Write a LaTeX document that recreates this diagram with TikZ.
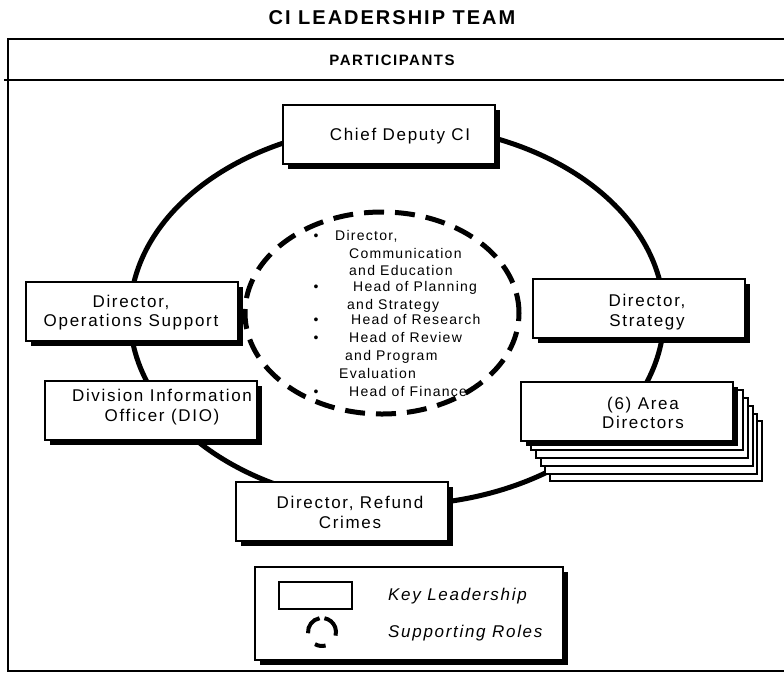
\documentclass[tikz,border=0pt]{standalone}
\usepackage{fontspec}
\setmainfont{Liberation Sans}
\newfontfamily\spfont[LetterSpace=10]{Liberation Sans}
\newfontfamily\elfont[LetterSpace=9]{Liberation Sans}
\newfontfamily\ttlfont[LetterSpace=10]{Liberation Sans}
\usetikzlibrary{shadows}
\begin{document}
\begin{tikzpicture}[x=1pt,y=-1pt,
  keybox/.style={draw, fill=white, line width=2pt, minimum width=212pt, minimum height=59pt, inner sep=0pt,
    drop shadow={shadow xshift=5pt, shadow yshift=-5pt, fill=black, opacity=1}},
  stackbox/.style={draw, fill=white, line width=1.6pt, minimum width=212pt, minimum height=60pt, inner sep=0pt},
  boxtext/.style={font=\spfont\fontsize{17}{19.5}\selectfont, align=center, inner sep=0pt},
  eltext/.style={font=\elfont\fontsize{14}{16}\selectfont, anchor=base west, inner sep=0pt},
  bul/.style={font=\fontsize{14}{16}\selectfont, anchor=base, inner sep=0pt},
  legtext/.style={font=\spfont\itshape\fontsize{17}{19.5}\selectfont, anchor=west, inner sep=0pt},
  frameline/.style={line width=2.5pt},
  ring/.style={line width=5pt},
  supp/.style={line width=5pt, dash pattern=on 20pt off 11pt},
  suppmini/.style={line width=4pt}]
\useasboundingbox (0,0) rectangle (784,673);

% title and frame
\node[font=\ttlfont\bfseries\fontsize{20}{24}\selectfont, inner sep=0pt] (title) at (392,18) {CI LEADERSHIP TEAM};
\coordinate (ftr) at (784,39);
\coordinate (ftl) at (8,39);
\coordinate (fbl) at (8,671);
\coordinate (fbr) at (784,671);
\draw[frameline] (ftr) -- (ftl) -- (fbl) -- (fbr);
\coordinate (hl) at (4,80);
\coordinate (hr) at (784,80);
\draw[frameline] (hl) -- (hr);
\node[font=\ttlfont\bfseries\fontsize{15}{18}\selectfont, inner sep=0pt] (part) at (392,60) {PARTICIPANTS};

% big solid ring
\coordinate (ringc) at (397,315);
\draw[ring] (ringc) ellipse [x radius=267pt, y radius=190pt];

% dashed supporting ellipse
\coordinate (suppc) at (382,313);
\draw[supp] (suppc) ellipse [x radius=137pt, y radius=101pt];

% supporting roles text
\node[bul] (eb1) at (316,240) {•};
\node[eltext] (e1) at (335,240) {Director,};
\node[eltext] (e2) at (349,258) {Communication};
\node[eltext] (e3) at (349,275) {and Education};
\node[bul] (eb2) at (316,291) {•};
\node[eltext] (e4) at (353,291) {Head of Planning};
\node[eltext] (e5) at (347,309) {and Strategy};
\node[bul] (eb3) at (316,324) {•};
\node[eltext] (e6) at (351,324) {Head of Research};
\node[bul] (eb4) at (316,342) {•};
\node[eltext] (e7) at (349,342) {Head of Review};
\node[eltext] (e8) at (345,360) {and Program};
\node[eltext] (e9) at (339,378) {Evaluation};
\node[bul] (eb5) at (316,396) {•};
\node[eltext] (e10) at (349,396) {Head of Finance};

% key leadership boxes
\node[keybox] (chief) at (389,134.5) {};
\node[boxtext] (chieft) at (400,136) {Chief Deputy CI};

\node[keybox] (ops) at (131.5,311.5) {};
\node[boxtext] (opst) at (131,312.5) {Director,\\Operations Support};

\node[keybox] (strat) at (639,308) {};
\node[boxtext] (stratt) at (647,312) {Director,\\Strategy};

\node[keybox] (dio) at (151,410.5) {};
\node[boxtext] (diot) at (162,407) {Division Information\\Officer (DIO)};

\node[keybox] (refund) at (342,511.5) {};
\node[boxtext] (refundt) at (350,512.5) {Director, Refund\\Crimes};

% area directors stack
\node[stackbox] (s5) at (656,451) {};
\node[stackbox] (s4) at (651,444) {};
\node[stackbox] (s3) at (647,436) {};
\node[stackbox] (s2) at (642,428) {};
\node[stackbox] (s1) at (637,420) {};
\node[keybox] (area) at (627,411) {};
\node[boxtext] (areat) at (643,413) {(6) Area\\Directors};

% legend
\node[keybox, minimum width=308pt, minimum height=93pt] (legend) at (409,613.5) {};
\node[draw, line width=1.6pt, minimum width=73pt, minimum height=27pt, inner sep=0pt] (legkey) at (315.5,595.5) {};
\node[legtext] (legk) at (388,596) {Key Leadership};
\coordinate (lc) at (322,632);
\draw[suppmini] ([shift={(185:14pt)}]lc) arc[start angle=185, end angle=100, radius=14pt];
\draw[suppmini] ([shift={(80:14pt)}]lc) arc[start angle=80, end angle=-15, radius=14pt];
\draw[suppmini] ([shift={(240:14pt)}]lc) arc[start angle=240, end angle=285, radius=14pt];
\node[legtext] (legs) at (388,633) {Supporting Roles};
\end{tikzpicture}
\end{document}
